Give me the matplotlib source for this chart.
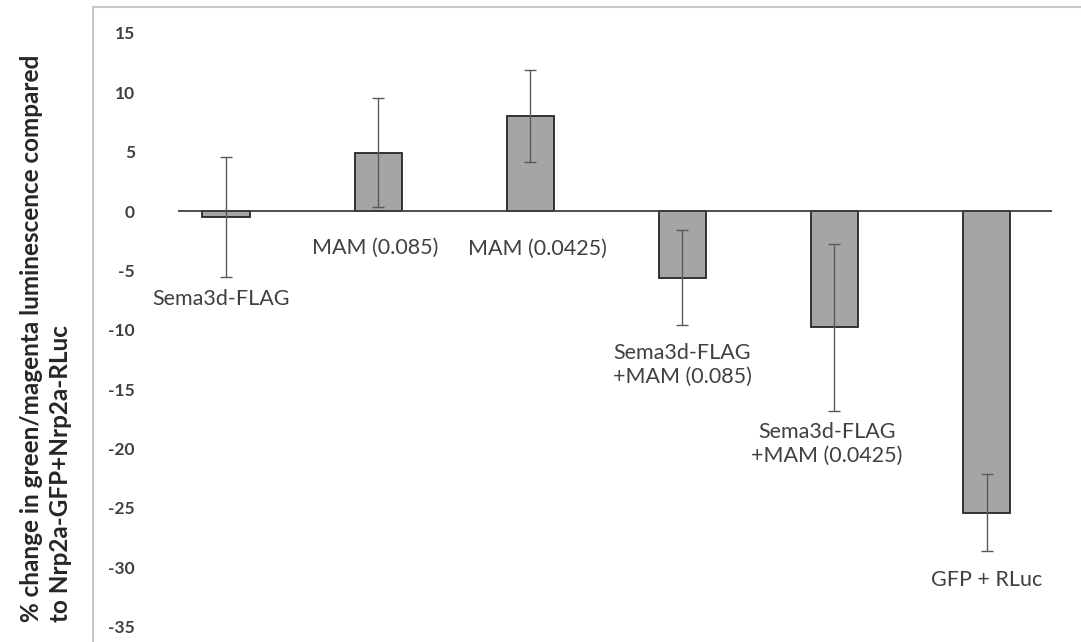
import matplotlib.pyplot as plt
from matplotlib.lines import Line2D

# --- data ---
categories = ['Sema3d-FLAG', 'MAM (0.085)', 'MAM (0.0425)',
              'Sema3d-FLAG\n+MAM (0.085)', 'Sema3d-FLAG\n+MAM (0.0425)', 'GFP + RLuc']
values = [-0.5, 4.9, 8.0, -5.6, -9.8, -25.4]
errors = [5.05, 4.6, 3.85, 4.0, 7.05, 3.25]
yticks = [15, 10, 5, 0, -5, -10, -15, -20, -25, -30, -35]

# where the category labels sit (x offset from bar, y in data units)
label_dx = [-0.03, -0.02, 0.05, 0.0, -0.05, 0.0]
label_y = [-7.4, -3.1, -3.2, -13.0, -19.6, -31.1]

W, H = 1081, 642
plt.rcParams['font.family'] = ['Lato', 'DejaVu Sans']
txt = '#404040'

fig = plt.figure(figsize=(W / 100, H / 100), dpi=100)
ax = fig.add_axes([178 / W, (H - 640) / H, (1052 - 178) / W, (640 - 7) / H])

x = list(range(len(categories)))
ax.bar(x, values, width=0.31, color='#a5a5a5', edgecolor='#262626', linewidth=1.3, zorder=2)
ax.errorbar(x, values, yerr=errors, fmt='none', ecolor='#595959', elinewidth=1.0,
            capsize=4.5, capthick=1.0, zorder=3)
ax.axhline(0, color='#404040', linewidth=1.3, zorder=4)

for i, lab in enumerate(categories):
    ax.text(i + label_dx[i], label_y[i], lab, ha='center', va='center',
            fontsize=15.5, color=txt, linespacing=1.25)

ax.set_xlim(-0.316, 5.43)
ax.set_ylim(-36.14, 17.19)
ax.set_xticks([])
ax.set_yticks(yticks)
ax.set_yticklabels([str(t) for t in yticks], fontweight='bold', fontsize=12.5, color=txt)
ax.tick_params(axis='y', length=0, pad=31)
for s in ax.spines.values():
    s.set_visible(False)

# chart-area frame (left and top edges visible)
fig.add_artist(Line2D([93 / W, 93 / W], [0, (H - 7) / H], color='#c8c8c8', linewidth=1.5))
fig.add_artist(Line2D([93 / W, 1], [(H - 7) / H, (H - 7) / H], color='#c8c8c8', linewidth=1.5))

fig.text(46 / W, (H - 622) / H,
         '% change in green/magenta luminescence compared\nto Nrp2a-GFP+Nrp2a-RLuc',
         rotation=90, ha='center', va='bottom', multialignment='left',
         fontsize=17.5, fontweight='bold', color='#262626', linespacing=1.3)

fig.savefig('out.png', dpi=100)
